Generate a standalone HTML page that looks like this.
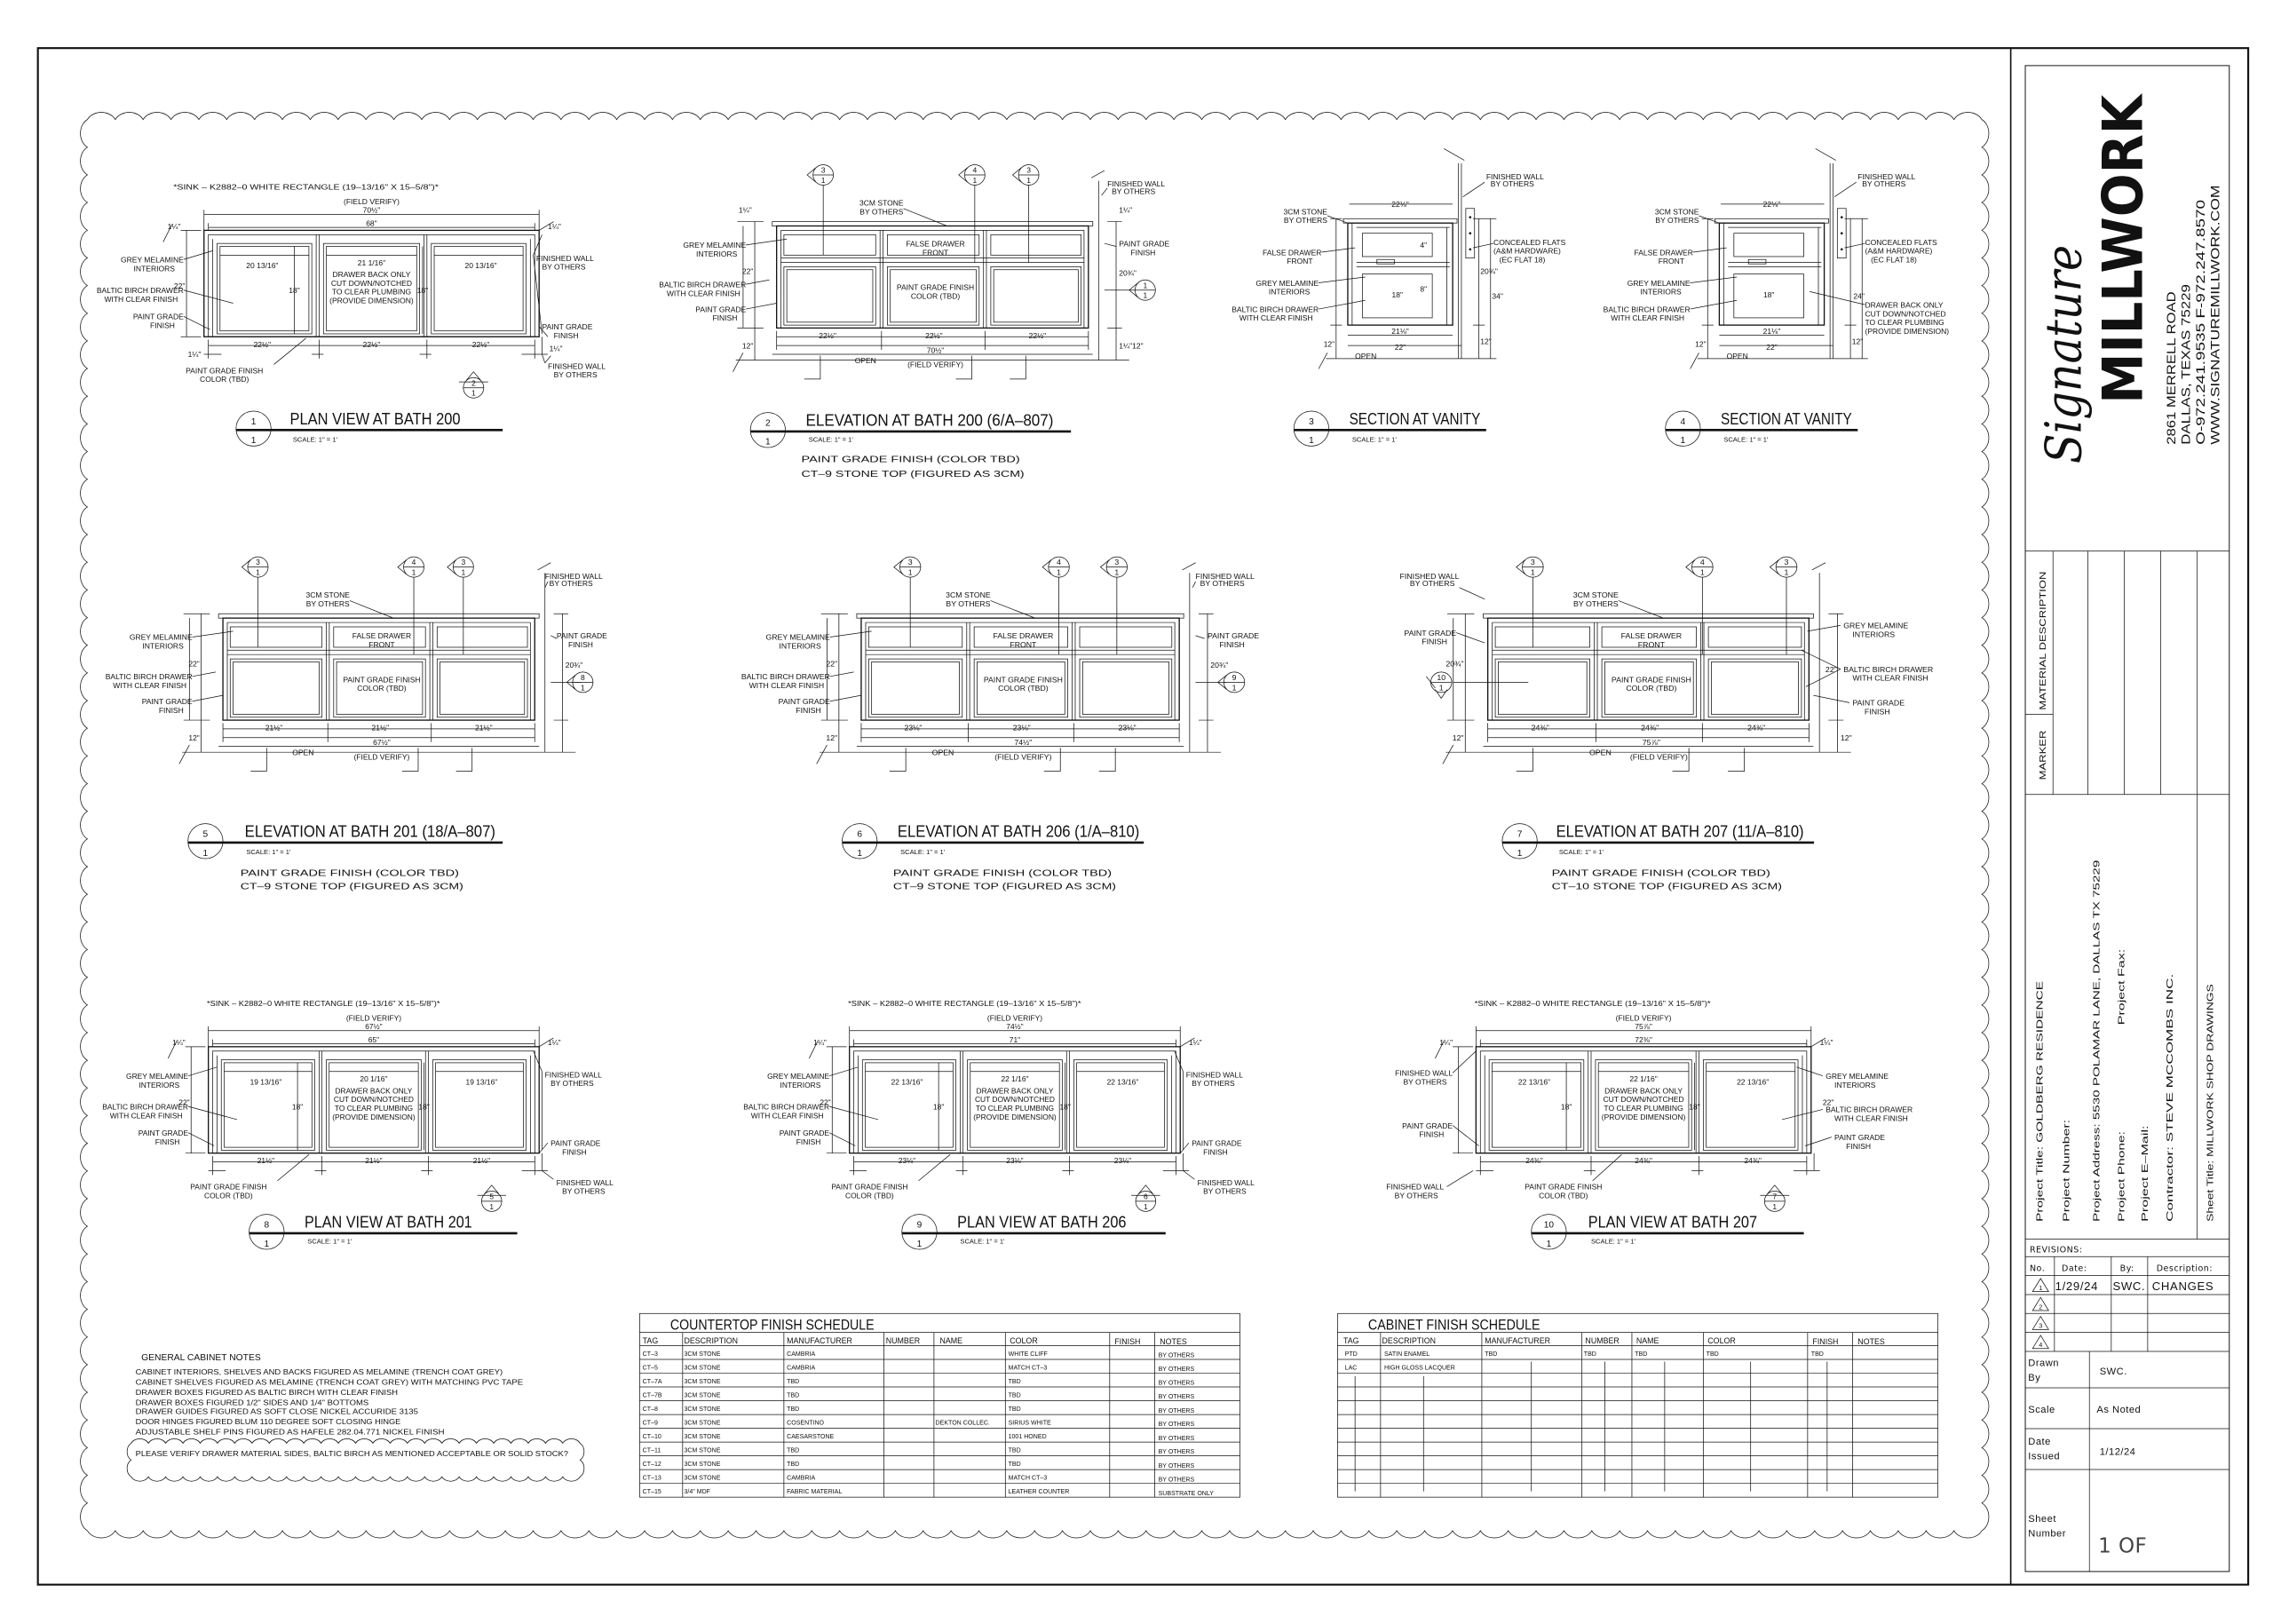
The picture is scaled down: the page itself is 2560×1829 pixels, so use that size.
<!DOCTYPE html>
<html><head><meta charset="utf-8">
<style>
html,body{margin:0;padding:0;background:#fff;}
svg{display:block;}
text{font-family:"Liberation Sans Narrow","Liberation Sans",sans-serif;fill:#111;}
.t{font-size:5.2px;}
.ts{font-size:4.6px;}
.h{font-size:11.5px;}
.n{font-size:6.2px;}
.s{stroke:#111;fill:none;stroke-width:0.45;}
.b{stroke:#111;fill:none;stroke-width:0.8;}
.k{stroke:#111;fill:none;stroke-width:1.6;}
.m{text-anchor:middle;}
.e{text-anchor:end;}
.tb{font-family:"DejaVu Sans","Liberation Sans",sans-serif;font-size:5.8px;letter-spacing:0.3px;}
</style></head><body>
<svg id="sv" width="2560" height="1829" viewBox="0 0 1560 1114" preserveAspectRatio="none" xmlns="http://www.w3.org/2000/svg">
<defs>
<g id="elev">
 <rect class="s" x="0" y="0" width="220" height="3"/>
 <rect class="b" x="3" y="3" width="214" height="70"/>
 <path class="s" d="M6 6H214M6 25H214M6 28H214M74 6V73M76 6V73M145 6V73M147 6V73M6 6V73M214 6V73"/>
 <rect class="s" x="8" y="9" width="63" height="14"/><rect class="s" x="79" y="9" width="63" height="14"/><rect class="s" x="150" y="9" width="62" height="14"/>
 <rect class="s" x="8" y="31" width="63" height="40"/><rect class="s" x="79" y="31" width="63" height="40"/><rect class="s" x="150" y="31" width="62" height="40"/>
 <rect class="s" x="10" y="33" width="59" height="36"/><rect class="s" x="81" y="33" width="59" height="36"/><rect class="s" x="152" y="33" width="58" height="36"/>
 <path class="s" d="M-25 95H245M224 -28V95M-12 0V95M-20 3V73M-24 0H-6M-24 73H-6M-16 95H-6M236 0V95M230 73H240M230 0H240M230 95H240M3 79H217M3 85H217M0 91H220M3 75V88M75 75V88M146 75V88M217 75V88M-27 103L-20 90M219 -30L228 -35"/>
 <path class="s" d="M33 92V108H22M137 92V108H126M174 92V108H163"/>
</g>
<g id="plan">
 <rect class="b" x="0" y="0" width="230" height="73"/>
 <rect class="s" x="3" y="3" width="224" height="70"/>
 <path class="s" d="M77 3V73M79 3V73M151 3V73M153 3V73M6 6V73M224 6V73"/>
 <rect class="s" x="9" y="9" width="65" height="62"/><rect class="s" x="82" y="9" width="66" height="62"/><rect class="s" x="156" y="9" width="65" height="62"/>
 <rect class="s" x="11" y="11" width="61" height="58"/><rect class="s" x="84" y="11" width="62" height="58"/><rect class="s" x="158" y="11" width="61" height="58"/>
 <path class="s" d="M0 -11H230M3 -2H227M0 -14V0M230 -14V0M3 -5V0M227 -5V0M-12 0V73M-16 0H-2M-16 73H-2M3 79H227M0 85H12M74 85H82M148 85H156M218 85H232M3 75V88M79 75V88M153 75V88M227 75V88M-22 -4L-28 8M230 0L240 -6M232 73V85H236"/>
 <path class="s" d="M11 17H72M84 17H146M158 17H219M62 11V71M150 11V71"/>
</g>
<g id="sect">
 <rect class="s" x="-3" y="0" width="78" height="3"/>
 <rect class="b" x="0" y="3" width="72" height="70"/>
 <path class="s" d="M3 3V73M6 6H70M6 30H70M6 33H70M68 6V73"/>
 <rect class="s" x="10" y="10" width="48" height="16"/><rect class="s" x="10" y="38" width="48" height="30"/>
 <rect class="s" x="20" y="28" width="12" height="3"/>
 <path class="s" d="M76 -38V96M78 -38V96M-15 96H100M-8 0V96M-12 0H-4M-12 73H-4M-12 96H-4M90 0V96M86 0H94M86 73H94M86 96H94M98 0V96M94 0H102M94 96H102M0 80H72M0 87H78M72 -10H1M66 -48L80 -40M-20 103L-14 92"/>
 <rect class="s" x="81" y="-7" width="6" height="34"/>
 <circle cx="84" cy="-1" r="0.8" fill="#111"/><circle cx="84" cy="10" r="0.8" fill="#111"/><circle cx="84" cy="21" r="0.8" fill="#111"/>
</g>
<g id="mkL"><circle class="s" cx="0" cy="0" r="7"/><path class="s" d="M-7 0H7M-5 -5L-11 0L-5 5"/></g>
<g id="mkU"><circle class="s" cx="0" cy="0" r="7"/><path class="s" d="M-7 0H7M-5 -5L0 -11L5 -5M-10 -4H10"/></g>
<g id="mkR"><circle class="s" cx="0" cy="0" r="7"/><path class="s" d="M-7 0H7M-4 5L0 11L4 5M-10 -4L-4 4"/></g>
</defs>

<rect x="26" y="33" width="1517" height="1054" fill="none" stroke="#111" stroke-width="1.3"/>
<line x1="1380" y1="33" x2="1380" y2="1087" stroke="#111" stroke-width="1"/>
<path id="cloud" class="s" d=""/>
<path id="cloud2" class="s" d=""/>

<!-- View 1 -->
<g transform="translate(140,158)">
 <use href="#plan"/>
 <text class="t m" x="70" y="-28" textLength="182" lengthAdjust="spacingAndGlyphs">*SINK – K2882–0 WHITE RECTANGLE (19–13/16" X 15–5/8")*</text>
 <text class="t m" x="115" y="-18">(FIELD VERIFY)</text>
 <text class="t m" x="115" y="-12">70½"</text>
 <text class="t m" x="115" y="-3">68"</text>
 <text class="t e" x="-16" y="-1">1¼"</text><text class="t" x="236" y="-1">1¼"</text>
 <text class="t e" x="-14" y="22">GREY MELAMINE</text><text class="t e" x="-20" y="28">INTERIORS</text>
 <text class="t e" x="-14" y="43">BALTIC BIRCH DRAWER</text><text class="t e" x="-18" y="49">WITH CLEAR FINISH</text>
 <text class="t e" x="-14" y="61">PAINT GRADE</text><text class="t e" x="-20" y="67">FINISH</text>
 <text class="t m" x="40" y="26">20 13/16"</text><text class="t m" x="115" y="24">21 1/16"</text><text class="t m" x="190" y="26">20 13/16"</text>
 <text class="t m" x="62" y="43">18"</text><text class="t m" x="150" y="43">18"</text><text class="t e" x="-13" y="40">22"</text>
 <text class="t m" x="115" y="32">DRAWER BACK ONLY</text><text class="t m" x="115" y="38">CUT DOWN/NOTCHED</text><text class="t m" x="115" y="44">TO CLEAR PLUMBING</text><text class="t m" x="115" y="50">(PROVIDE DIMENSION)</text>
 <text class="t m" x="40" y="80">22½"</text><text class="t m" x="115" y="80">22½"</text><text class="t m" x="190" y="80">22½"</text>
 <text class="t e" x="-2" y="87">1¼"</text><text class="t" x="237" y="83">1¼"</text>
 <text class="t m" x="14" y="98">PAINT GRADE FINISH</text><text class="t m" x="14" y="104">COLOR (TBD)</text>
 <text class="t" x="228" y="21">FINISHED WALL</text><text class="t" x="232" y="27">BY OTHERS</text>
 <text class="t" x="232" y="68">PAINT GRADE</text><text class="t" x="240" y="74">FINISH</text>
 <text class="t" x="236" y="95">FINISHED WALL</text><text class="t" x="240" y="101">BY OTHERS</text>
 <path class="s" d="M-14 20L6 14M-14 41L20 50M-14 59L4 68M48 92L70 74M226 17L232 3M226 17L232 71M230 66L236 73M234 91L232 85M234 91L238 86"/>
 <g transform="translate(185,108)"><use href="#mkU"/><text class="t m" x="0" y="-1.5">2</text><text class="t m" x="0" y="5.5">1</text></g>
</g>

<!-- View 2 -->
<g transform="translate(530,152)">
 <use href="#elev"/>
 <text class="t m" x="75" y="-11">3CM STONE</text><text class="t m" x="75" y="-5">BY OTHERS</text>
 <text class="t m" x="112" y="17">FALSE DRAWER</text><text class="t m" x="112" y="23">FRONT</text>
 <text class="t m" x="112" y="47">PAINT GRADE FINISH</text><text class="t m" x="112" y="53">COLOR (TBD)</text>
 <text class="t e" x="-18" y="18">GREY MELAMINE</text><text class="t e" x="-24" y="24">INTERIORS</text>
 <text class="t e" x="-18" y="45">BALTIC BIRCH DRAWER</text><text class="t e" x="-22" y="51">WITH CLEAR FINISH</text>
 <text class="t e" x="-18" y="62">PAINT GRADE</text><text class="t e" x="-24" y="68">FINISH</text>
 <text class="t" x="230" y="-24">FINISHED WALL</text><text class="t" x="233" y="-19">BY OTHERS</text>
 <text class="t" x="238" y="17">PAINT GRADE</text><text class="t" x="246" y="23">FINISH</text>
 <text class="t m" x="38" y="80">22½"</text><text class="t m" x="111" y="80">22½"</text><text class="t m" x="182" y="80">22½"</text>
 <text class="t m" x="64" y="97">OPEN</text><text class="t m" x="112" y="90">70½"</text><text class="t m" x="112" y="100">(FIELD VERIFY)</text>
 <text class="t e" x="-13" y="36">22"</text><text class="t e" x="-13" y="87">12"</text><text class="t" x="238" y="37">20¾"</text><text class="t" x="238" y="87">1¼"12"</text>
 <text class="t e" x="-14" y="-6">1¼"</text><text class="t" x="238" y="-6">1¼"</text>
 <path class="s" d="M-18 16L10 12M-18 43L-2 40M-18 60L3 56M90 -9L120 3M226 -18L230 -23M228 15L236 17M35 -25V23M139 -25V28M176 -25V28M228 47H249"/>
 <g transform="translate(35,-32)"><use href="#mkL"/><text class="t m" x="0" y="-1.5">3</text><text class="t m" x="0" y="5.5">1</text></g>
 <g transform="translate(139,-32)"><use href="#mkL"/><text class="t m" x="0" y="-1.5">4</text><text class="t m" x="0" y="5.5">1</text></g>
 <g transform="translate(176,-32)"><use href="#mkL"/><text class="t m" x="0" y="-1.5">3</text><text class="t m" x="0" y="5.5">1</text></g>
 <g transform="translate(256,47)"><use href="#mkL"/><text class="t m" x="0" y="-1.5">1</text><text class="t m" x="0" y="5.5">1</text></g>
</g>

<!-- Sections -->
<g transform="translate(925,150)">
 <use href="#sect"/>
 <text class="t e" x="-14" y="-3">3CM STONE</text><text class="t e" x="-14" y="3">BY OTHERS</text>
 <text class="t e" x="-18" y="25">FALSE DRAWER</text><text class="t e" x="-24" y="31">FRONT</text>
 <text class="t e" x="-20" y="46">GREY MELAMINE</text><text class="t e" x="-26" y="52">INTERIORS</text>
 <text class="t e" x="-20" y="64">BALTIC BIRCH DRAWER</text><text class="t e" x="-24" y="70">WITH CLEAR FINISH</text>
 <text class="t" x="95" y="-27">FINISHED WALL</text><text class="t" x="98" y="-22">BY OTHERS</text>
 <text class="t" x="100" y="18">CONCEALED FLATS</text><text class="t" x="100" y="24">(A&amp;M HARDWARE)</text><text class="t" x="104" y="30">(EC FLAT 18)</text>
 <text class="t m" x="36" y="-8">22⅛"</text><text class="t m" x="36" y="79">21⅛"</text><text class="t m" x="36" y="90">22"</text><text class="t" x="5" y="96">OPEN</text>
 <text class="t" x="99" y="55">34"</text><text class="t" x="91" y="38">20¾"</text><text class="t" x="91" y="86">12"</text><text class="t e" x="-9" y="88">12"</text>
 <text class="t m" x="34" y="54">18"</text><text class="t m" x="52" y="20">4"</text><text class="t m" x="52" y="50">8"</text>
 <path class="s" d="M-14 -2L0 3M-18 23L5 20M-20 44L12 40M-20 62L12 56M94 -25L79 -15M100 17L86 20"/>
</g>
<g transform="translate(1180,150)">
 <use href="#sect"/>
 <text class="t e" x="-14" y="-3">3CM STONE</text><text class="t e" x="-14" y="3">BY OTHERS</text>
 <text class="t e" x="-18" y="25">FALSE DRAWER</text><text class="t e" x="-24" y="31">FRONT</text>
 <text class="t e" x="-20" y="46">GREY MELAMINE</text><text class="t e" x="-26" y="52">INTERIORS</text>
 <text class="t e" x="-20" y="64">BALTIC BIRCH DRAWER</text><text class="t e" x="-24" y="70">WITH CLEAR FINISH</text>
 <text class="t" x="95" y="-27">FINISHED WALL</text><text class="t" x="98" y="-22">BY OTHERS</text>
 <text class="t" x="100" y="18">CONCEALED FLATS</text><text class="t" x="100" y="24">(A&amp;M HARDWARE)</text><text class="t" x="104" y="30">(EC FLAT 18)</text>
 <text class="t" x="100" y="61">DRAWER BACK ONLY</text><text class="t" x="100" y="67">CUT DOWN/NOTCHED</text><text class="t" x="100" y="73">TO CLEAR PLUMBING</text><text class="t" x="100" y="79">(PROVIDE DIMENSION)</text>
 <text class="t m" x="36" y="-8">22⅛"</text><text class="t m" x="36" y="79">21⅛"</text><text class="t m" x="36" y="90">22"</text><text class="t" x="5" y="96">OPEN</text>
 <text class="t" x="92" y="55">24"</text><text class="t" x="91" y="86">12"</text><text class="t e" x="-9" y="88">12"</text><text class="t m" x="34" y="54">18"</text>
 <path class="s" d="M-14 -2L0 3M-18 23L5 20M-20 44L12 40M-20 62L12 56M94 -25L79 -15M100 17L86 20M100 59L62 50"/>
</g>

<!-- Row 2 -->
<g transform="translate(150,421)">
 <use href="#elev"/>
 <text class="t m" x="75" y="-11">3CM STONE</text><text class="t m" x="75" y="-5">BY OTHERS</text>
 <text class="t m" x="112" y="17">FALSE DRAWER</text><text class="t m" x="112" y="23">FRONT</text>
 <text class="t m" x="112" y="47">PAINT GRADE FINISH</text><text class="t m" x="112" y="53">COLOR (TBD)</text>
 <text class="t e" x="-18" y="18">GREY MELAMINE</text><text class="t e" x="-24" y="24">INTERIORS</text>
 <text class="t e" x="-18" y="45">BALTIC BIRCH DRAWER</text><text class="t e" x="-22" y="51">WITH CLEAR FINISH</text>
 <text class="t e" x="-18" y="62">PAINT GRADE</text><text class="t e" x="-24" y="68">FINISH</text>
 <text class="t" x="224" y="-24">FINISHED WALL</text><text class="t" x="227" y="-19">BY OTHERS</text>
 <text class="t" x="232" y="17">PAINT GRADE</text><text class="t" x="240" y="23">FINISH</text>
 <text class="t m" x="38" y="80">21½"</text><text class="t m" x="111" y="80">21½"</text><text class="t m" x="182" y="80">21½"</text>
 <text class="t m" x="58" y="97">OPEN</text><text class="t m" x="112" y="90">67½"</text><text class="t m" x="112" y="100">(FIELD VERIFY)</text>
 <text class="t e" x="-13" y="36">22"</text><text class="t e" x="-13" y="87">12"</text><text class="t" x="238" y="37">20¾"</text>
 <path class="s" d="M-18 16L10 12M-18 43L-2 40M-18 60L3 56M90 -9L120 3M224 -18L226 -22M228 15L232 17M27 -25V23M134 -25V28M168 -25V28M228 47H249"/>
 <g transform="translate(27,-32)"><use href="#mkL"/><text class="t m" x="0" y="-1.5">3</text><text class="t m" x="0" y="5.5">1</text></g>
 <g transform="translate(134,-32)"><use href="#mkL"/><text class="t m" x="0" y="-1.5">4</text><text class="t m" x="0" y="5.5">1</text></g>
 <g transform="translate(168,-32)"><use href="#mkL"/><text class="t m" x="0" y="-1.5">3</text><text class="t m" x="0" y="5.5">1</text></g>
 <g transform="translate(250,47)"><use href="#mkL"/><text class="t m" x="0" y="-1.5">8</text><text class="t m" x="0" y="5.5">1</text></g>
</g>
<g transform="translate(588,421) scale(1.02,1)">
 <use href="#elev"/>
 <text class="t m" x="75" y="-11">3CM STONE</text><text class="t m" x="75" y="-5">BY OTHERS</text>
 <text class="t m" x="112" y="17">FALSE DRAWER</text><text class="t m" x="112" y="23">FRONT</text>
 <text class="t m" x="112" y="47">PAINT GRADE FINISH</text><text class="t m" x="112" y="53">COLOR (TBD)</text>
 <text class="t e" x="-18" y="18">GREY MELAMINE</text><text class="t e" x="-24" y="24">INTERIORS</text>
 <text class="t e" x="-18" y="45">BALTIC BIRCH DRAWER</text><text class="t e" x="-22" y="51">WITH CLEAR FINISH</text>
 <text class="t e" x="-18" y="62">PAINT GRADE</text><text class="t e" x="-24" y="68">FINISH</text>
 <text class="t" x="228" y="-24">FINISHED WALL</text><text class="t" x="231" y="-19">BY OTHERS</text>
 <text class="t" x="236" y="17">PAINT GRADE</text><text class="t" x="244" y="23">FINISH</text>
 <text class="t m" x="38" y="80">23⅛"</text><text class="t m" x="111" y="80">23⅛"</text><text class="t m" x="182" y="80">23⅛"</text>
 <text class="t m" x="58" y="97">OPEN</text><text class="t m" x="112" y="90">74½"</text><text class="t m" x="112" y="100">(FIELD VERIFY)</text>
 <text class="t e" x="-13" y="36">22"</text><text class="t e" x="-13" y="87">12"</text><text class="t" x="238" y="37">20¾"</text>
 <path class="s" d="M-18 16L10 12M-18 43L-2 40M-18 60L3 56M90 -9L120 3M226 -18L228 -22M228 15L234 17M36 -25V23M136 -25V28M175 -25V28M228 47H249"/>
 <g transform="translate(36,-32)"><use href="#mkL"/><text class="t m" x="0" y="-1.5">3</text><text class="t m" x="0" y="5.5">1</text></g>
 <g transform="translate(136,-32)"><use href="#mkL"/><text class="t m" x="0" y="-1.5">4</text><text class="t m" x="0" y="5.5">1</text></g>
 <g transform="translate(175,-32)"><use href="#mkL"/><text class="t m" x="0" y="-1.5">3</text><text class="t m" x="0" y="5.5">1</text></g>
 <g transform="translate(254,47)"><use href="#mkL"/><text class="t m" x="0" y="-1.5">9</text><text class="t m" x="0" y="5.5">1</text></g>
</g>
<g transform="translate(1018,421) scale(1.03,1)">
 <use href="#elev"/>
 <text class="t m" x="75" y="-11">3CM STONE</text><text class="t m" x="75" y="-5">BY OTHERS</text>
 <text class="t m" x="112" y="17">FALSE DRAWER</text><text class="t m" x="112" y="23">FRONT</text>
 <text class="t m" x="112" y="47">PAINT GRADE FINISH</text><text class="t m" x="112" y="53">COLOR (TBD)</text>
 <text class="t e" x="-16" y="-24">FINISHED WALL</text><text class="t e" x="-19" y="-19">BY OTHERS</text>
 <text class="t e" x="-18" y="15">PAINT GRADE</text><text class="t e" x="-24" y="21">FINISH</text>
 <text class="t" x="240" y="10">GREY MELAMINE</text><text class="t" x="246" y="16">INTERIORS</text>
 <text class="t" x="240" y="40">BALTIC BIRCH DRAWER</text><text class="t" x="246" y="46">WITH CLEAR FINISH</text>
 <text class="t" x="246" y="63">PAINT GRADE</text><text class="t" x="254" y="69">FINISH</text>
 <text class="t m" x="38" y="80">24⅜"</text><text class="t m" x="111" y="80">24⅜"</text><text class="t m" x="182" y="80">24⅜"</text>
 <text class="t m" x="78" y="97">OPEN</text><text class="t m" x="112" y="90">75⅞"</text><text class="t m" x="117" y="100">(FIELD VERIFY)</text>
 <text class="t e" x="-13" y="36">20¾"</text><text class="t e" x="-13" y="87">12"</text><text class="t" x="228" y="40">22"</text><text class="t" x="238" y="87">12"</text>
 <path class="s" d="M-16 -18L1 -10M-18 13L1 20M90 -9L120 3M238 8L216 12M238 38L212 25M238 38L215 50M244 61L220 56M33 -25V23M146 -25V28M202 -25V28M-20 47H30"/>
 <g transform="translate(33,-32)"><use href="#mkL"/><text class="t m" x="0" y="-1.5">3</text><text class="t m" x="0" y="5.5">1</text></g>
 <g transform="translate(146,-32)"><use href="#mkL"/><text class="t m" x="0" y="-1.5">4</text><text class="t m" x="0" y="5.5">1</text></g>
 <g transform="translate(202,-32)"><use href="#mkL"/><text class="t m" x="0" y="-1.5">3</text><text class="t m" x="0" y="5.5">1</text></g>
 <g transform="translate(-28,47)"><use href="#mkR"/><text class="t m" x="0" y="-1.5">10</text><text class="t m" x="0" y="5.5">1</text></g>
</g>

<!-- Row 3 -->
<g transform="translate(143,718) scale(0.987,1)">
 <use href="#plan"/>
 <text class="t m" x="80" y="-28" textLength="162" lengthAdjust="spacingAndGlyphs">*SINK – K2882–0 WHITE RECTANGLE (19–13/16" X 15–5/8")*</text>
 <text class="t m" x="115" y="-18">(FIELD VERIFY)</text>
 <text class="t m" x="115" y="-12">67½"</text><text class="t m" x="115" y="-3">65"</text>
 <text class="t e" x="-16" y="-1">1¼"</text><text class="t" x="236" y="-1">1¼"</text>
 <text class="t e" x="-14" y="22">GREY MELAMINE</text><text class="t e" x="-20" y="28">INTERIORS</text>
 <text class="t e" x="-14" y="43">BALTIC BIRCH DRAWER</text><text class="t e" x="-18" y="49">WITH CLEAR FINISH</text>
 <text class="t e" x="-14" y="61">PAINT GRADE</text><text class="t e" x="-20" y="67">FINISH</text>
 <text class="t m" x="40" y="26">19 13/16"</text><text class="t m" x="115" y="24">20 1/16"</text><text class="t m" x="190" y="26">19 13/16"</text>
 <text class="t m" x="62" y="43">18"</text><text class="t m" x="150" y="43">18"</text><text class="t e" x="-13" y="40">22"</text>
 <text class="t m" x="115" y="32">DRAWER BACK ONLY</text><text class="t m" x="115" y="38">CUT DOWN/NOTCHED</text><text class="t m" x="115" y="44">TO CLEAR PLUMBING</text><text class="t m" x="115" y="50">(PROVIDE DIMENSION)</text>
 <text class="t m" x="40" y="80">21½"</text><text class="t m" x="115" y="80">21½"</text><text class="t m" x="190" y="80">21½"</text>
 <text class="t m" x="14" y="98">PAINT GRADE FINISH</text><text class="t m" x="14" y="104">COLOR (TBD)</text>
 <text class="t" x="234" y="21">FINISHED WALL</text><text class="t" x="238" y="27">BY OTHERS</text>
 <text class="t" x="238" y="68">PAINT GRADE</text><text class="t" x="246" y="74">FINISH</text>
 <text class="t" x="242" y="95">FINISHED WALL</text><text class="t" x="246" y="101">BY OTHERS</text>
 <path class="s" d="M-14 20L6 14M-14 41L20 50M-14 59L4 68M48 92L70 74M232 17L226 3M232 17L232 71M236 66L230 73M240 91L232 85"/>
 <g transform="translate(197,106)"><use href="#mkU"/><text class="t m" x="0" y="-1.5">5</text><text class="t m" x="0" y="5.5">1</text></g>
</g>
<g transform="translate(583,718) scale(0.987,1)">
 <use href="#plan"/>
 <text class="t m" x="80" y="-28" textLength="162" lengthAdjust="spacingAndGlyphs">*SINK – K2882–0 WHITE RECTANGLE (19–13/16" X 15–5/8")*</text>
 <text class="t m" x="115" y="-18">(FIELD VERIFY)</text>
 <text class="t m" x="115" y="-12">74½"</text><text class="t m" x="115" y="-3">71"</text>
 <text class="t e" x="-16" y="-1">1¼"</text><text class="t" x="236" y="-1">1¼"</text>
 <text class="t e" x="-14" y="22">GREY MELAMINE</text><text class="t e" x="-20" y="28">INTERIORS</text>
 <text class="t e" x="-14" y="43">BALTIC BIRCH DRAWER</text><text class="t e" x="-18" y="49">WITH CLEAR FINISH</text>
 <text class="t e" x="-14" y="61">PAINT GRADE</text><text class="t e" x="-20" y="67">FINISH</text>
 <text class="t m" x="40" y="26">22 13/16"</text><text class="t m" x="115" y="24">22 1/16"</text><text class="t m" x="190" y="26">22 13/16"</text>
 <text class="t m" x="62" y="43">18"</text><text class="t m" x="150" y="43">18"</text><text class="t e" x="-13" y="40">22"</text>
 <text class="t m" x="115" y="32">DRAWER BACK ONLY</text><text class="t m" x="115" y="38">CUT DOWN/NOTCHED</text><text class="t m" x="115" y="44">TO CLEAR PLUMBING</text><text class="t m" x="115" y="50">(PROVIDE DIMENSION)</text>
 <text class="t m" x="40" y="80">23⅛"</text><text class="t m" x="115" y="80">23⅛"</text><text class="t m" x="190" y="80">23⅛"</text>
 <text class="t m" x="14" y="98">PAINT GRADE FINISH</text><text class="t m" x="14" y="104">COLOR (TBD)</text>
 <text class="t" x="234" y="21">FINISHED WALL</text><text class="t" x="238" y="27">BY OTHERS</text>
 <text class="t" x="238" y="68">PAINT GRADE</text><text class="t" x="246" y="74">FINISH</text>
 <text class="t" x="242" y="95">FINISHED WALL</text><text class="t" x="246" y="101">BY OTHERS</text>
 <path class="s" d="M-14 20L6 14M-14 41L20 50M-14 59L4 68M48 92L70 74M232 17L226 3M232 17L232 71M236 66L230 73M240 91L232 85"/>
 <g transform="translate(206,106)"><use href="#mkU"/><text class="t m" x="0" y="-1.5">6</text><text class="t m" x="0" y="5.5">1</text></g>
</g>
<g transform="translate(1013,718)">
 <use href="#plan"/>
 <text class="t m" x="80" y="-28" textLength="162" lengthAdjust="spacingAndGlyphs">*SINK – K2882–0 WHITE RECTANGLE (19–13/16" X 15–5/8")*</text>
 <text class="t m" x="115" y="-18">(FIELD VERIFY)</text>
 <text class="t m" x="115" y="-12">75⅞"</text><text class="t m" x="115" y="-3">72⅜"</text>
 <text class="t e" x="-16" y="-1">1¼"</text><text class="t" x="236" y="-1">1¼"</text>
 <text class="t e" x="-16" y="20">FINISHED WALL</text><text class="t e" x="-20" y="26">BY OTHERS</text>
 <text class="t e" x="-16" y="56">PAINT GRADE</text><text class="t e" x="-22" y="62">FINISH</text>
 <text class="t e" x="-22" y="98">FINISHED WALL</text><text class="t e" x="-26" y="104">BY OTHERS</text>
 <text class="t" x="240" y="22">GREY MELAMINE</text><text class="t" x="246" y="28">INTERIORS</text>
 <text class="t" x="240" y="45">BALTIC BIRCH DRAWER</text><text class="t" x="246" y="51">WITH CLEAR FINISH</text>
 <text class="t" x="246" y="64">PAINT GRADE</text><text class="t" x="254" y="70">FINISH</text>
 <text class="t m" x="40" y="26">22 13/16"</text><text class="t m" x="115" y="24">22 1/16"</text><text class="t m" x="190" y="26">22 13/16"</text>
 <text class="t m" x="62" y="43">18"</text><text class="t m" x="150" y="43">18"</text><text class="t" x="238" y="40">22"</text>
 <text class="t m" x="115" y="32">DRAWER BACK ONLY</text><text class="t m" x="115" y="38">CUT DOWN/NOTCHED</text><text class="t m" x="115" y="44">TO CLEAR PLUMBING</text><text class="t m" x="115" y="50">(PROVIDE DIMENSION)</text>
 <text class="t m" x="40" y="80">24⅜"</text><text class="t m" x="115" y="80">24⅜"</text><text class="t m" x="190" y="80">24⅜"</text>
 <text class="t m" x="60" y="98">PAINT GRADE FINISH</text><text class="t m" x="60" y="104">COLOR (TBD)</text>
 <path class="s" d="M-16 18L0 3M-16 54L2 68M-20 96L-2 85M238 20L220 14M238 43L210 50M244 62L226 68M80 92L100 74"/>
 <g transform="translate(205,106)"><use href="#mkU"/><text class="t m" x="0" y="-1.5">7</text><text class="t m" x="0" y="5.5">1</text></g>
</g>

<!-- Titles -->
<g>
 <circle class="s" cx="174" cy="294" r="12"/><line class="k" x1="162" y1="295" x2="345" y2="295"/>
 <text class="n m" x="174" y="291">1</text><text class="n m" x="174" y="304">1</text>
 <text class="h" x="199" y="291" textLength="117" lengthAdjust="spacingAndGlyphs">PLAN VIEW AT BATH 200</text><text class="ts" x="201" y="303">SCALE: 1" = 1'</text>

 <circle class="s" cx="527" cy="295" r="12"/><line class="k" x1="515" y1="296" x2="735" y2="296"/>
 <text class="n m" x="527" y="292">2</text><text class="n m" x="527" y="305">1</text>
 <text class="h" x="553" y="292" textLength="170" lengthAdjust="spacingAndGlyphs">ELEVATION AT BATH 200 (6/A–807)</text><text class="ts" x="555" y="303">SCALE: 1" = 1'</text>
 <text class="n" x="550" y="317" textLength="150" lengthAdjust="spacingAndGlyphs">PAINT GRADE FINISH (COLOR TBD)</text><text class="n" x="550" y="327" textLength="153" lengthAdjust="spacingAndGlyphs">CT–9 STONE TOP (FIGURED AS 3CM)</text>

 <circle class="s" cx="900" cy="294" r="12"/><line class="k" x1="888" y1="295" x2="1020" y2="295"/>
 <text class="n m" x="900" y="291">3</text><text class="n m" x="900" y="304">1</text>
 <text class="h" x="926" y="291" textLength="90" lengthAdjust="spacingAndGlyphs">SECTION AT VANITY</text><text class="ts" x="928" y="303">SCALE: 1" = 1'</text>

 <circle class="s" cx="1155" cy="294" r="12"/><line class="k" x1="1143" y1="295" x2="1275" y2="295"/>
 <text class="n m" x="1155" y="291">4</text><text class="n m" x="1155" y="304">1</text>
 <text class="h" x="1181" y="291" textLength="90" lengthAdjust="spacingAndGlyphs">SECTION AT VANITY</text><text class="ts" x="1183" y="303">SCALE: 1" = 1'</text>

 <circle class="s" cx="141" cy="577" r="12"/><line class="k" x1="129" y1="578" x2="345" y2="578"/>
 <text class="n m" x="141" y="574">5</text><text class="n m" x="141" y="587">1</text>
 <text class="h" x="168" y="574" textLength="172" lengthAdjust="spacingAndGlyphs">ELEVATION AT BATH 201 (18/A–807)</text><text class="ts" x="169" y="586">SCALE: 1" = 1'</text>
 <text class="n" x="165" y="601" textLength="150" lengthAdjust="spacingAndGlyphs">PAINT GRADE FINISH (COLOR TBD)</text><text class="n" x="165" y="610" textLength="153" lengthAdjust="spacingAndGlyphs">CT–9 STONE TOP (FIGURED AS 3CM)</text>

 <circle class="s" cx="590" cy="577" r="12"/><line class="k" x1="578" y1="578" x2="785" y2="578"/>
 <text class="n m" x="590" y="574">6</text><text class="n m" x="590" y="587">1</text>
 <text class="h" x="616" y="574" textLength="166" lengthAdjust="spacingAndGlyphs">ELEVATION AT BATH 206 (1/A–810)</text><text class="ts" x="618" y="586">SCALE: 1" = 1'</text>
 <text class="n" x="613" y="601" textLength="150" lengthAdjust="spacingAndGlyphs">PAINT GRADE FINISH (COLOR TBD)</text><text class="n" x="613" y="610" textLength="153" lengthAdjust="spacingAndGlyphs">CT–9 STONE TOP (FIGURED AS 3CM)</text>

 <circle class="s" cx="1043" cy="577" r="12"/><line class="k" x1="1031" y1="578" x2="1245" y2="578"/>
 <text class="n m" x="1043" y="574">7</text><text class="n m" x="1043" y="587">1</text>
 <text class="h" x="1068" y="574" textLength="170" lengthAdjust="spacingAndGlyphs">ELEVATION AT BATH 207 (11/A–810)</text><text class="ts" x="1070" y="586">SCALE: 1" = 1'</text>
 <text class="n" x="1065" y="601" textLength="150" lengthAdjust="spacingAndGlyphs">PAINT GRADE FINISH (COLOR TBD)</text><text class="n" x="1065" y="610" textLength="158" lengthAdjust="spacingAndGlyphs">CT–10 STONE TOP (FIGURED AS 3CM)</text>

 <circle class="s" cx="183" cy="845" r="12"/><line class="k" x1="171" y1="846" x2="355" y2="846"/>
 <text class="n m" x="183" y="842">8</text><text class="n m" x="183" y="855">1</text>
 <text class="h" x="209" y="842" textLength="115" lengthAdjust="spacingAndGlyphs">PLAN VIEW AT BATH 201</text><text class="ts" x="211" y="853">SCALE: 1" = 1'</text>

 <circle class="s" cx="631" cy="845" r="12"/><line class="k" x1="619" y1="846" x2="800" y2="846"/>
 <text class="n m" x="631" y="842">9</text><text class="n m" x="631" y="855">1</text>
 <text class="h" x="657" y="842" textLength="116" lengthAdjust="spacingAndGlyphs">PLAN VIEW AT BATH 206</text><text class="ts" x="659" y="853">SCALE: 1" = 1'</text>

 <circle class="s" cx="1063" cy="845" r="12"/><line class="k" x1="1051" y1="846" x2="1238" y2="846"/>
 <text class="n m" x="1063" y="842">10</text><text class="n m" x="1063" y="855">1</text>
 <text class="h" x="1090" y="842" textLength="116" lengthAdjust="spacingAndGlyphs">PLAN VIEW AT BATH 207</text><text class="ts" x="1092" y="853">SCALE: 1" = 1'</text>
</g>

<!-- Notes -->
<g style="font-size:4.8px">
 <text x="97" y="933" style="font-size:6.4px" textLength="82" lengthAdjust="spacingAndGlyphs">GENERAL CABINET NOTES</text>
 <text x="93" y="943" textLength="252" lengthAdjust="spacingAndGlyphs">CABINET INTERIORS, SHELVES AND BACKS FIGURED AS MELAMINE (TRENCH COAT GREY)</text>
 <text x="93" y="950" textLength="266" lengthAdjust="spacingAndGlyphs">CABINET SHELVES FIGURED AS MELAMINE (TRENCH COAT GREY) WITH MATCHING PVC TAPE</text>
 <text x="93" y="957" textLength="180" lengthAdjust="spacingAndGlyphs">DRAWER BOXES FIGURED AS BALTIC BIRCH WITH CLEAR FINISH</text>
 <text x="93" y="964" textLength="160" lengthAdjust="spacingAndGlyphs">DRAWER BOXES FIGURED 1/2" SIDES AND 1/4" BOTTOMS</text>
 <text x="93" y="970" textLength="194" lengthAdjust="spacingAndGlyphs">DRAWER GUIDES FIGURED AS SOFT CLOSE NICKEL ACCURIDE 3135</text>
 <text x="93" y="977" textLength="182" lengthAdjust="spacingAndGlyphs">DOOR HINGES FIGURED BLUM 110 DEGREE SOFT CLOSING HINGE</text>
 <text x="93" y="984" textLength="212" lengthAdjust="spacingAndGlyphs">ADJUSTABLE SHELF PINS FIGURED AS HAFELE 282.04.771 NICKEL FINISH</text>
 <text x="93" y="999" textLength="297" lengthAdjust="spacingAndGlyphs">PLEASE VERIFY DRAWER MATERIAL SIDES, BALTIC BIRCH AS MENTIONED ACCEPTABLE OR SOLID STOCK?</text>
</g>

<!-- Countertop schedule -->
<g>
 <rect class="s" x="439" y="901" width="412" height="126"/>
 <path class="s" d="M439 914H851M439 923H851M439 932.5H851M439 941.9H851M439 951.4H851M439 960.8H851M439 970.3H851M439 979.7H851M439 989.2H851M439 998.6H851M439 1008.1H851M439 1017.5H851"/>
 <path class="s" d="M468.5 914V1027M538 914V1027M606.7 914V1027M641 914V1027M690 914V1027M761.6 914V1027M792.5 914V1027"/>
 <text x="460" y="912" style="font-size:10px" textLength="140" lengthAdjust="spacingAndGlyphs">COUNTERTOP FINISH SCHEDULE</text>
 <g style="font-size:5.4px">
 <text x="441" y="921.5">TAG</text><text x="469.5" y="921.5">DESCRIPTION</text><text x="540" y="921.5">MANUFACTURER</text><text x="608" y="921.5">NUMBER</text><text x="645" y="921.5">NAME</text><text x="693" y="921.5">COLOR</text><text x="765" y="922">FINISH</text><text x="796" y="922">NOTES</text>
 </g>
 <g style="font-size:4.3px">
 <text x="441" y="930">CT–3</text><text x="469.5" y="930">3CM STONE</text><text x="540" y="930">CAMBRIA</text><text x="692" y="930">WHITE CLIFF</text><text x="795" y="931">BY OTHERS</text>
 <text x="441" y="939.5">CT–5</text><text x="469.5" y="939.5">3CM STONE</text><text x="540" y="939.5">CAMBRIA</text><text x="692" y="939.5">MATCH CT–3</text><text x="795" y="940.5">BY OTHERS</text>
 <text x="441" y="949">CT–7A</text><text x="469.5" y="949">3CM STONE</text><text x="540" y="949">TBD</text><text x="692" y="949">TBD</text><text x="795" y="950">BY OTHERS</text>
 <text x="441" y="958.4">CT–7B</text><text x="469.5" y="958.4">3CM STONE</text><text x="540" y="958.4">TBD</text><text x="692" y="958.4">TBD</text><text x="795" y="959.4">BY OTHERS</text>
 <text x="441" y="967.9">CT–8</text><text x="469.5" y="967.9">3CM STONE</text><text x="540" y="967.9">TBD</text><text x="692" y="967.9">TBD</text><text x="795" y="968.9">BY OTHERS</text>
 <text x="441" y="977.3">CT–9</text><text x="469.5" y="977.3">3CM STONE</text><text x="540" y="977.3">COSENTINO</text><text x="642" y="977.3">DEKTON COLLEC.</text><text x="692" y="977.3">SIRIUS WHITE</text><text x="795" y="978.3">BY OTHERS</text>
 <text x="441" y="986.8">CT–10</text><text x="469.5" y="986.8">3CM STONE</text><text x="540" y="986.8">CAESARSTONE</text><text x="692" y="986.8">1001 HONED</text><text x="795" y="987.8">BY OTHERS</text>
 <text x="441" y="996.2">CT–11</text><text x="469.5" y="996.2">3CM STONE</text><text x="540" y="996.2">TBD</text><text x="692" y="996.2">TBD</text><text x="795" y="997.2">BY OTHERS</text>
 <text x="441" y="1005.7">CT–12</text><text x="469.5" y="1005.7">3CM STONE</text><text x="540" y="1005.7">TBD</text><text x="692" y="1005.7">TBD</text><text x="795" y="1006.7">BY OTHERS</text>
 <text x="441" y="1015.1">CT–13</text><text x="469.5" y="1015.1">3CM STONE</text><text x="540" y="1015.1">CAMBRIA</text><text x="692" y="1015.1">MATCH CT–3</text><text x="795" y="1016.1">BY OTHERS</text>
 <text x="441" y="1024.6">CT–15</text><text x="469.5" y="1024.6">3/4" MDF</text><text x="540" y="1024.6">FABRIC MATERIAL</text><text x="692" y="1024.6">LEATHER COUNTER</text><text x="795" y="1025.6">SUBSTRATE ONLY</text>
 </g>
</g>

<!-- Cabinet schedule -->
<g>
 <rect class="s" x="918" y="901" width="412" height="126"/>
 <path class="s" d="M918 914H1330M918 923H1330M918 932.5H1330M918 941.9H1330M918 951.4H1330M918 960.8H1330M918 970.3H1330M918 979.7H1330M918 989.2H1330M918 998.6H1330M918 1008.1H1330M918 1017.5H1330"/>
 <path class="s" d="M947.5 914V1027M1017 914V1027M1085.7 914V1027M1120 914V1027M1169 914V1027M1240.6 914V1027M1271.5 914V1027"/>
 <path class="s" d="M930 944V1023M977 944V1023M1051 934V1023M1101.5 934V1023M1142.5 934V1023M1201.5 934V1023M1254 934V1023"/>
 <text x="939" y="912" style="font-size:10px" textLength="118" lengthAdjust="spacingAndGlyphs">CABINET FINISH SCHEDULE</text>
 <g style="font-size:5.4px">
 <text x="922" y="921.5">TAG</text><text x="948.5" y="921.5">DESCRIPTION</text><text x="1019" y="921.5">MANUFACTURER</text><text x="1088" y="921.5">NUMBER</text><text x="1123" y="921.5">NAME</text><text x="1172" y="921.5">COLOR</text><text x="1244" y="922">FINISH</text><text x="1275" y="922">NOTES</text>
 </g>
 <g style="font-size:4.3px">
 <text x="923" y="930">PTD</text><text x="950" y="930">SATIN ENAMEL</text><text x="1019" y="930">TBD</text><text x="1087" y="930">TBD</text><text x="1122" y="930">TBD</text><text x="1171" y="930">TBD</text><text x="1243" y="930">TBD</text>
 <text x="923" y="939.5">LAC</text><text x="950" y="939.5">HIGH GLOSS LACQUER</text>
 </g>
</g>

<!-- Title block -->
<g>
 <rect x="1390" y="45" width="140" height="1033" fill="none" stroke="#111" stroke-width="0.6"/>
 <line class="s" x1="1390" y1="378" x2="1530" y2="378"/>
 <path class="s" d="M1409 378V545M1433 378V545M1458 378V545M1483 378V545M1508 378V545M1390 490H1409M1390 545H1530M1508 545V850M1390 850H1530"/>
 <text transform="translate(1470,277) rotate(-90)" style="font-family:'DejaVu Sans','Liberation Sans',sans-serif;font-weight:bold;font-size:38px" textLength="212" lengthAdjust="spacingAndGlyphs">MILLWORK</text>
 <text transform="translate(1428,318) rotate(-90)" style="font-family:'DejaVu Serif','Liberation Serif',serif;font-style:italic;font-size:34px" textLength="150" lengthAdjust="spacingAndGlyphs">Signature</text>
 <g style="font-family:'Liberation Serif',serif;font-size:8.2px">
 <text transform="translate(1493,305) rotate(-90)" textLength="105" lengthAdjust="spacingAndGlyphs">2861 MERRELL ROAD</text>
 <text transform="translate(1503,305) rotate(-90)" textLength="110" lengthAdjust="spacingAndGlyphs">DALLAS, TEXAS 75229</text>
 <text transform="translate(1513,305) rotate(-90)" textLength="168" lengthAdjust="spacingAndGlyphs">O-972.241.9535   F-972.247.8570</text>
 <text transform="translate(1523,305) rotate(-90)" textLength="178" lengthAdjust="spacingAndGlyphs">WWW.SIGNATUREMILLWORK.COM</text>
 </g>
 <g style="font-size:6.4px">
 <text transform="translate(1404,487) rotate(-90)" textLength="95" lengthAdjust="spacingAndGlyphs">MATERIAL  DESCRIPTION</text>
 <text transform="translate(1404,535) rotate(-90)" textLength="34" lengthAdjust="spacingAndGlyphs">MARKER</text>
 <text transform="translate(1402,838) rotate(-90)" textLength="165" lengthAdjust="spacingAndGlyphs">Project  Title:      GOLDBERG RESIDENCE</text>
 <text transform="translate(1420,838) rotate(-90)" textLength="70" lengthAdjust="spacingAndGlyphs">Project  Number:</text>
 <text transform="translate(1441,838) rotate(-90)" textLength="248" lengthAdjust="spacingAndGlyphs">Project  Address: 5530 POLAMAR LANE, DALLAS TX 75229</text>
 <text transform="translate(1458,838) rotate(-90)" textLength="62" lengthAdjust="spacingAndGlyphs">Project  Phone:</text>
 <text transform="translate(1458,703) rotate(-90)" textLength="52" lengthAdjust="spacingAndGlyphs">Project  Fax:</text>
 <text transform="translate(1474,838) rotate(-90)" textLength="66" lengthAdjust="spacingAndGlyphs">Project  E–Mail:</text>
 <text transform="translate(1491,838) rotate(-90)" textLength="170" lengthAdjust="spacingAndGlyphs">Contractor:        STEVE  MCCOMBS  INC.</text>
 <text transform="translate(1519,838) rotate(-90)" textLength="163" lengthAdjust="spacingAndGlyphs">Sheet  Title: MILLWORK  SHOP  DRAWINGS</text>
 </g>
 <path class="s" d="M1390 862H1530M1390 875H1530M1390 888H1530M1390 901H1530M1390 914H1530M1390 927H1530M1410 862V927M1449 862V927M1474 862V927"/>
 <text class="tb" x="1393" y="859">REVISIONS:</text>
 <text class="tb" x="1393" y="872">No.</text><text class="tb" x="1415" y="872">Date:</text><text class="tb" x="1455" y="872">By:</text><text class="tb" x="1480" y="872">Description:</text>
 <g class="s"><polygon points="1395,886 1406,886 1400.5,877"/><polygon points="1395,899 1406,899 1400.5,890"/><polygon points="1395,912 1406,912 1400.5,903"/><polygon points="1395,925 1406,925 1400.5,916"/></g>
 <g style="font-family:'DejaVu Sans',sans-serif;font-size:4.5px" text-anchor="middle"><text x="1400.5" y="885">1</text><text x="1400.5" y="898">2</text><text x="1400.5" y="911">3</text><text x="1400.5" y="924">4</text></g>
 <g style="font-family:'DejaVu Sans','Liberation Sans',sans-serif;font-size:8px;letter-spacing:0.4px"><text x="1410.5" y="885">1/29/24</text><text x="1450" y="885">SWC.</text><text x="1477" y="885">CHANGES</text></g>
 <path class="s" d="M1390 952H1530M1390 980H1530M1390 1008H1530M1434 927V1078"/>
 <g class="tb" style="font-size:6.8px">
 <text x="1392" y="937">Drawn</text><text x="1392" y="947">By</text>
 <text x="1392" y="969">Scale</text>
 <text x="1392" y="991">Date</text><text x="1392" y="1001">Issued</text>
 <text x="1392" y="1044">Sheet</text><text x="1392" y="1054">Number</text>
 <text x="1441" y="943">SWC.</text><text x="1439" y="969">As  Noted</text><text x="1441" y="998">1/12/24</text>
 </g>
 <text class="tb" x="1440" y="1065" style="font-size:14px;fill:#444">1  OF</text>
</g>
</svg>
<script>
(function(){
 function cloud(x0,y0,x1,y1,step,r){
  var d="M"+x0+" "+y0;
  var nx=Math.round((x1-x0)/step), sx=(x1-x0)/nx;
  for(var i=0;i<nx;i++) d+=" a"+r+" "+(r*0.8)+" 0 0 1 "+sx.toFixed(2)+" 0";
  var ny=Math.round((y1-y0)/step), sy=(y1-y0)/ny;
  for(var i=0;i<ny;i++) d+=" a"+(r*0.8)+" "+r+" 0 0 1 0 "+sy.toFixed(2);
  for(var i=0;i<nx;i++) d+=" a"+r+" "+(r*0.8)+" 0 0 1 "+(-sx).toFixed(2)+" 0";
  for(var i=0;i<ny;i++) d+=" a"+(r*0.8)+" "+r+" 0 0 1 0 "+(-sy).toFixed(2);
  return d+"Z";
 }
 document.getElementById("cloud").setAttribute("d",cloud(60,82,1360,1050,19,10.5));
 document.getElementById("cloud2").setAttribute("d",cloud(90,990,398,1013,12,6.5));
})();
</script>
</body></html>
